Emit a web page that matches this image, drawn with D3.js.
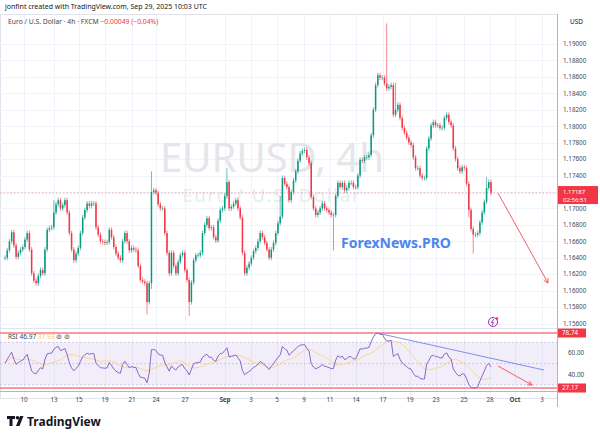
<!DOCTYPE html>
<html>
<head>
<meta charset="utf-8">
<script src="https://cdn.jsdelivr.net/npm/d3@7"></script>
<style>
  body { margin: 0; background: #fff; }
  svg { font-family: "Noto Sans", Roboto, sans-serif; }
</style>
</head>
<body>
<svg></svg>
<script>
const width = 600;
const height = 437;

// closes in pips above 1.15000, one per 4h bar, from Aug 7 to Sep 29
const closePips = [
  140,149,160,171,155,141,146,150,153,162,170,150,121,112,109,118,125,121,150,174,
  176,177,195,205,210,200,204,210,195,170,150,137,145,152,170,189,198,206,203,206,
  206,177,168,160,159,158,159,174,165,153,145,140,137,160,170,160,149,152,150,149,
  130,113,111,109,86,109,220,222,219,205,200,200,170,146,121,146,130,121,135,143,
  146,125,113,86,110,137,143,143,146,170,180,188,176,177,165,161,185,198,200,215,
  232,200,202,206,210,200,189,146,121,128,133,140,148,152,160,170,165,158,150,140,
  150,158,170,182,190,237,230,226,210,220,234,245,258,267,270,271,262,255,214,200,
  192,195,200,206,200,198,195,192,192,215,231,226,231,222,225,231,231,226,226,240,
  259,258,262,262,265,289,320,350,362,359,359,352,346,348,350,314,320,326,310,298,
  292,286,280,277,262,249,249,240,237,237,273,285,301,305,301,301,298,298,310,314,
  305,301,273,260,249,245,250,249,230,198,175,168,168,170,183,195,208,225,232,219
];
// bars with long wicks: index -> [extra high pips, extra low pips]
const wickSpikes = { 22: [12, 0], 64: [0, 12], 66: [22, 4], 83: [0, 14], 100: [14, 0],
  124: [22, 0], 148: [0, 40], 172: [70, 0], 176: [30, 0], 209: [0, 6], 211: [0, 20], 217: [10, 0] };

const priceTicks = [1.19, 1.188, 1.186, 1.184, 1.182, 1.18, 1.178, 1.176, 1.174, 1.172,
  1.17, 1.168, 1.166, 1.164, 1.162, 1.16, 1.158, 1.156];
const timeLabels = ["10","13","15","19","21","24","27","Sep","3","5","9","11","14","17","19","23","25","28","Oct","3"];
const timeLabelX = [24,54,79,105,132,156,185,225,251,277,304,330,356,383,410,436,464,490,515,542];
const rsiTicks = [60, 40];
const rsiMax = 78.74, rsiMin = 27.17;
const lastPrice = 1.17187;

const bars = closePips.map((c, i) => {
  const close = 1.15 + c / 10000;
  const open = i === 0 ? close : 1.15 + closePips[i - 1] / 10000;
  const s = wickSpikes[i] || [0, 0];
  const high = Math.max(open, close) + (3 + s[0]) / 10000;
  const low = Math.min(open, close) - (3 + s[1]) / 10000;
  return { i, open, close, high, low };
});

// RSI 14 (Wilder), rescaled so its range spans the marked max/min, and its 14-bar SMA
const rawRsi = [];
let ag = 0.0004, al = 0.0004;
bars.forEach((b, i) => {
  const ch = i === 0 ? 0 : b.close - bars[i - 1].close;
  ag = (ag * 13 + Math.max(ch, 0)) / 14;
  al = (al * 13 + Math.max(-ch, 0)) / 14;
  rawRsi.push(100 - 100 / (1 + ag / al));
});
const fit = d3.scaleLinear().domain(d3.extent(rawRsi)).range([rsiMin, rsiMax]);
const rsi = rawRsi.map(fit);
const rsiMa = rsi.map((v, i) => d3.mean(rsi.slice(Math.max(0, i - 13), i + 1)));

const svg = d3.select('svg').attr('width', width).attr('height', height);

const plotRight = 557;
const x = d3.scaleLinear().domain([0, closePips.length - 1]).range([5, 491]);
const y = d3.scaleLinear().domain([1.156, 1.19]).range([323.5, 44]);
const yr = d3.scaleLinear().domain([rsiMin, rsiMax]).range([388, 333]);

// header
svg.append('text').attr('x', 5).attr('y', 9).attr('font-size', 7).attr('fill', '#131722')
  .text('jonfint created with TradingView.com, Sep 29, 2025 10:03 UTC');
svg.append('rect').attr('x', 0.5).attr('y', 14.5).attr('width', plotRight).attr('height', 384)
  .attr('fill', 'none').attr('stroke', '#e0e3eb');

// grid
const grid = svg.append('g').attr('stroke', '#f0f3fa').attr('stroke-width', 1);
priceTicks.forEach(p => grid.append('line').attr('x1', 0).attr('x2', plotRight)
  .attr('y1', Math.round(y(p)) + 0.5).attr('y2', Math.round(y(p)) + 0.5));
timeLabelX.forEach(tx => grid.append('line').attr('x1', tx + 0.5).attr('x2', tx + 0.5)
  .attr('y1', 15).attr('y2', 398));

// watermark
svg.append('text').attr('x', 272).attr('y', 172).attr('text-anchor', 'middle')
  .attr('font-size', 40).attr('fill', '#e4e6ec').text('EURUSD, 4h');
svg.append('text').attr('x', 272).attr('y', 202).attr('text-anchor', 'middle')
  .attr('font-size', 18).attr('letter-spacing', 2).attr('fill', '#e9ebf0').text('Euro / U.S. Dollar');

// legend
const lg = svg.append('text').attr('x', 8).attr('y', 24).attr('font-size', 6.8).attr('fill', '#434651');
lg.append('tspan').text('Euro / U.S. Dollar · 4h · FXCM  ');
lg.append('tspan').attr('fill', '#f23645').text('−0.00049 (−0.04%)');

// last price line
svg.append('line').attr('x1', 0).attr('x2', plotRight).attr('y1', y(lastPrice)).attr('y2', y(lastPrice))
  .attr('stroke', '#f23645').attr('stroke-width', 0.7).attr('stroke-dasharray', '1.5,2').attr('opacity', 0.6);

// candles
const candles = svg.append('g').selectAll('g').data(bars).join('g');
candles.append('line')
  .attr('x1', d => x(d.i)).attr('x2', d => x(d.i))
  .attr('y1', d => y(d.high)).attr('y2', d => y(d.low))
  .attr('stroke', d => d.close >= d.open ? '#089981' : '#f23645').attr('stroke-width', 0.6);
candles.append('rect')
  .attr('x', d => x(d.i) - 0.75).attr('width', 1.5)
  .attr('y', d => y(Math.max(d.open, d.close)))
  .attr('height', d => Math.max(0.6, Math.abs(y(d.open) - y(d.close))))
  .attr('fill', d => d.close >= d.open ? '#089981' : '#f23645');

// drawn arrows
function arrow(g, x1, y1, x2, y2, color) {
  g.append('line').attr('x1', x1).attr('y1', y1).attr('x2', x2).attr('y2', y2)
    .attr('stroke', color).attr('stroke-width', 0.8);
  const a = Math.atan2(y2 - y1, x2 - x1);
  [-0.5, 0.5].forEach(o => g.append('line').attr('x1', x2).attr('y1', y2)
    .attr('x2', x2 - 5 * Math.cos(a + o)).attr('y2', y2 - 5 * Math.sin(a + o))
    .attr('stroke', color).attr('stroke-width', 0.8));
}
arrow(svg, x(219) + 7, y(lastPrice), 548, 283, '#f23645');

svg.append('text').attr('x', 341).attr('y', 248).attr('font-size', 14).attr('font-weight', 'bold')
  .attr('fill', '#4a86f0').text('ForexNews.PRO');

// flash icon
svg.append('circle').attr('cx', 493).attr('cy', 322).attr('r', 4.5).attr('fill', 'none')
  .attr('stroke', '#9c27b0').attr('stroke-width', 1);
svg.append('path').attr('d', 'M494,319 L491.5,322.5 L493.5,322.5 L492,325.5').attr('fill', 'none')
  .attr('stroke', '#9c27b0').attr('stroke-width', 0.9);
svg.append('circle').attr('cx', 497).attr('cy', 318.5).attr('r', 1.3).attr('fill', '#f23645');

// RSI pane
svg.append('line').attr('x1', 0).attr('x2', plotRight).attr('y1', 328.5).attr('y2', 328.5).attr('stroke', '#e0e3eb');
svg.append('rect').attr('x', 0).attr('width', plotRight).attr('y', yr(70)).attr('height', yr(30) - yr(70))
  .attr('fill', 'rgba(126,87,194,0.1)');
[70, 50, 30].forEach(v => svg.append('line').attr('x1', 0).attr('x2', plotRight).attr('y1', yr(v)).attr('y2', yr(v))
  .attr('stroke', '#b2a4cc').attr('stroke-width', 0.6).attr('stroke-dasharray', '2,2'));
[rsiMax, rsiMin].forEach(v => svg.append('line').attr('x1', 0).attr('x2', plotRight).attr('y1', yr(v)).attr('y2', yr(v))
  .attr('stroke', '#f23645').attr('stroke-width', 1));
svg.append('path').datum(rsiMa).attr('fill', 'none').attr('stroke', '#fbd38a').attr('stroke-width', 0.9)
  .attr('d', d3.line().x((d, i) => x(i)).y(d => yr(d)));
svg.append('path').datum(rsi).attr('fill', 'none').attr('stroke', '#7e57c2').attr('stroke-width', 0.9)
  .attr('d', d3.line().x((d, i) => x(i)).y(d => yr(d)));
svg.append('line').attr('x1', 377).attr('y1', 333).attr('x2', 544).attr('y2', 370)
  .attr('stroke', '#6f86e8').attr('stroke-width', 0.9);
arrow(svg, 498, 366, 532, 385, '#f23645');
const rl = svg.append('text').attr('x', 8).attr('y', 339).attr('font-size', 6.5).attr('fill', '#434651');
rl.append('tspan').text('RSI 46.97 ');
rl.append('tspan').attr('fill', '#f7c26b').text('37.93');
rl.append('tspan').text('  ⊘  ⊘');

// right axis
svg.append('line').attr('x1', plotRight + 0.5).attr('x2', plotRight + 0.5).attr('y1', 14).attr('y2', 407).attr('stroke', '#b2b5be');
svg.append('text').attr('x', 570).attr('y', 24).attr('font-size', 6.5).attr('fill', '#131722').text('USD');
priceTicks.forEach(p => svg.append('text').attr('x', 563).attr('y', y(p) + 2.3)
  .attr('font-size', 6.3).attr('fill', '#434651').text(p.toFixed(5)));
rsiTicks.forEach(v => svg.append('text').attr('x', 568).attr('y', yr(v) + 2.3)
  .attr('font-size', 6.3).attr('fill', '#434651').text(v.toFixed(2)));
svg.append('rect').attr('x', 558).attr('y', y(lastPrice) - 7).attr('width', 40).attr('height', 18).attr('fill', '#f23645');
svg.append('text').attr('x', 563).attr('y', y(lastPrice) + 1).attr('font-size', 6).attr('fill', '#fff').text(lastPrice.toFixed(5));
svg.append('text').attr('x', 563).attr('y', y(lastPrice) + 9).attr('font-size', 6).attr('fill', '#fff').text('02:56:51');
[rsiMax, rsiMin].forEach(v => {
  svg.append('rect').attr('x', 558).attr('y', yr(v) - 4.5).attr('width', 28).attr('height', 9).attr('fill', '#f23645');
  svg.append('text').attr('x', 562).attr('y', yr(v) + 2.3).attr('font-size', 6.3).attr('fill', '#fff').text(v.toFixed(2));
});

// time axis
svg.append('line').attr('x1', 0).attr('x2', plotRight).attr('y1', 391.5).attr('y2', 391.5).attr('stroke', '#b2b5be');
timeLabels.forEach((t, k) => svg.append('text').attr('x', timeLabelX[k]).attr('y', 402)
  .attr('text-anchor', 'middle').attr('font-size', 6.3)
  .attr('font-weight', t === 'Sep' || t === 'Oct' ? 'bold' : 'normal')
  .attr('fill', '#434651').text(t));

// logo
const logo = svg.append('g').attr('fill', '#131722');
logo.append('path').attr('d', 'M7,416 H15 V419 H12.5 V426 H9.5 V419 H7 Z');
logo.append('circle').attr('cx', 17.5).attr('cy', 417.8).attr('r', 1.8);
logo.append('path').attr('d', 'M20,416 H23.5 L19.5,426 H16 Z');
svg.append('text').attr('x', 27).attr('y', 426).attr('font-size', 12).attr('font-weight', 'bold')
  .attr('fill', '#131722').text('TradingView');
</script>
</body>
</html>
